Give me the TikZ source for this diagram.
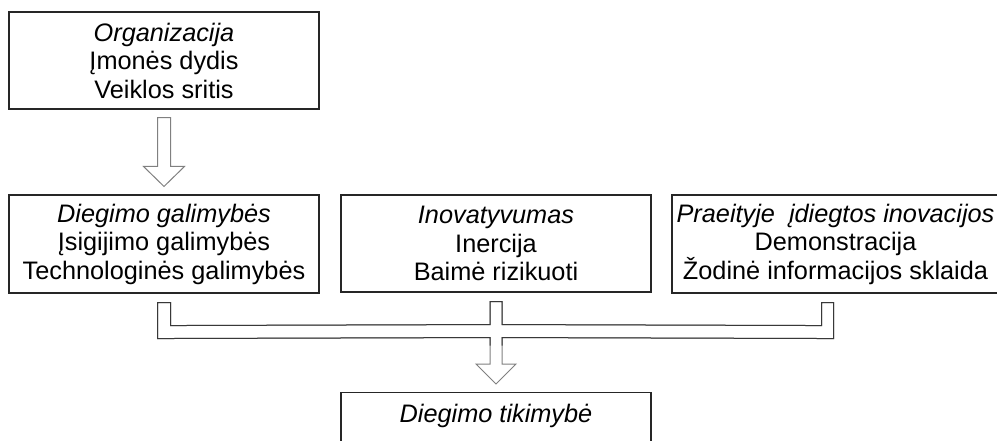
\documentclass[tikz,border=0pt]{standalone}
\usepackage{fontspec}
\setmainfont{Liberation Sans}
\usetikzlibrary{calc}
\tikzset{
  box/.style={draw=black!85, line width=1.1pt, rectangle, inner sep=0pt, align=center,
    font=\fontsize{25.3}{28.5}\selectfont, minimum width=310pt},
  blockarrow/.style={draw=black!50, line width=1pt, line join=miter, fill=white},
  bracket/.style={draw=black!78, line width=1pt, line join=miter},
}
\begin{document}
\begin{tikzpicture}[x=1pt,y=-1pt]
\clip (0,0) rectangle (997,441);
\fill[white] (0,0) rectangle (997,441);
\node[box, minimum height=97pt] (org) at (164,60.5)
  {\textit{Organizacija}\\Įmonės dydis\\Veiklos sritis};
\node[box, minimum height=98pt] (dg) at (164,244)
  {\textit{Diegimo galimybės}\\Įsigijimo galimybės\\Technologinės galimybės};
\node[box, minimum height=97pt] (inov) at (496,243.5)
  {\textit{Inovatyvumas}\\Inercija\\Baimė rizikuoti};
\node[box, minimum height=98pt, minimum width=327pt] (prae) at (835.5,244)
  {\textit{Praeityje\ \ įdiegtos inovacijos}\\Demonstracija\\Žodinė informacijos sklaida};
\node[box, anchor=north, text height=30pt, text depth=30pt] (tik) at (496,392)
  {\textit{Diegimo tikimybė}};
% arrow from org to dg
\draw[blockarrow]
  ($(org.south)+(-6.5,8)$) -- ($(org.south)+(6.5,8)$) -- ($(dg.north)+(6.5,-28)$)
  -- ($(dg.north)+(20.5,-28)$) -- ($(dg.north)+(0,-8)$) -- ($(dg.north)+(-20.5,-28)$)
  -- ($(dg.north)+(-6.5,-28)$) -- cycle;
% combined bracket arrow
\coordinate (L) at ($(dg.south)+(0,9)$);
\coordinate (M) at ($(inov.south)+(0,9)$);
\coordinate (R) at ($(prae.south)+(-8,9)$);
\draw[blockarrow]
  ($(L)+(-6.5,0)$) -- ($(L)+(6.5,0)$) -- ($(L)+(6.5,23)$) -- ($(M)+(-6,23)$)
  -- ($(M)+(-6,0)$) -- ($(M)+(6,0)$) -- ($(M)+(6,23)$) -- ($(R)+(-6,23)$)
  -- ($(R)+(-6,0)$) -- ($(R)+(6,0)$) -- ($(R)+(6,36)$) -- ($(M)+(6,36)$)
  -- ($(tik.north)+(6,-28)$) -- ($(tik.north)+(20,-28)$) -- ($(tik.north)+(0,-8)$)
  -- ($(tik.north)+(-20,-28)$) -- ($(tik.north)+(-6,-28)$) -- ($(M)+(-6,36)$)
  -- ($(L)+(-6.5,36)$) -- cycle;
\draw[bracket]
  ($(M)+(-6,44)$) -- ($(M)+(-6,36)$) -- ($(L)+(-6.5,36)$) -- ($(L)+(-6.5,0)$)
  -- ($(L)+(6.5,0)$) -- ($(L)+(6.5,23)$) -- ($(M)+(-6,23)$)
  -- ($(M)+(-6,0)$) -- ($(M)+(6,0)$) -- ($(M)+(6,23)$) -- ($(R)+(-6,23)$)
  -- ($(R)+(-6,0)$) -- ($(R)+(6,0)$) -- ($(R)+(6,36)$) -- ($(M)+(6,36)$) -- ($(M)+(6,44)$);
\end{tikzpicture}
\end{document}
